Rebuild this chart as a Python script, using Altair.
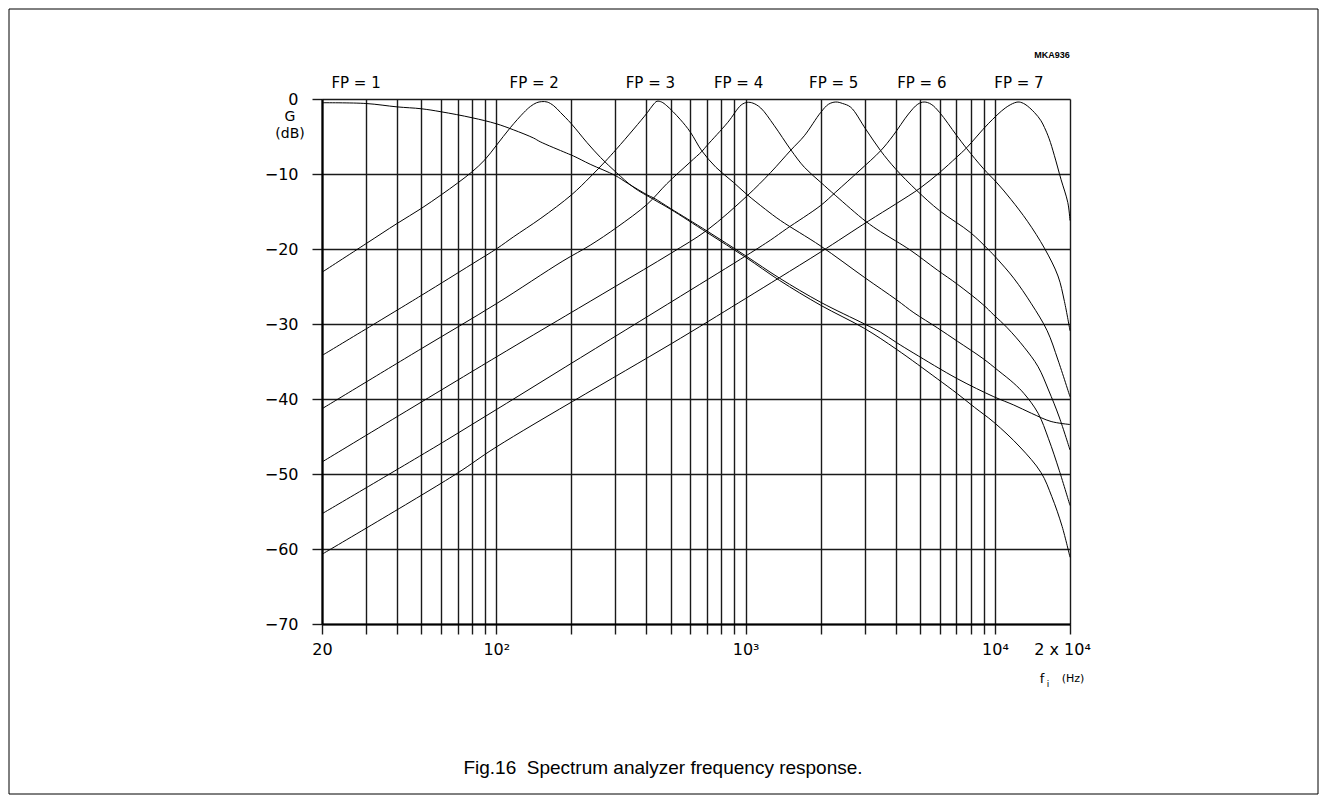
import altair as alt
import pandas as pd

# ---- data ----
curve_names = ["FP = 1", "FP = 2", "FP = 3", "FP = 4", "FP = 5", "FP = 6", "FP = 7"]

f1 = [20, 30, 40, 50, 60, 80, 100, 117, 141, 150, 191, 204, 238, 300, 335, 404, 428, 500, 700,
      1000, 1370, 2000, 3000, 3480, 4040, 4730, 7070, 9900, 11900, 14000, 16800, 20000]
g1 = [-0.5, -0.6, -1.05, -1.3, -1.7, -2.5, -3.3, -4.1, -5.2, -5.7, -7.2, -7.6, -8.7, -10.2, -11.2,
      -12.8, -13.2, -14.6, -17.6, -20.9, -23.9, -27.1, -30.0, -31.1, -32.5, -33.9, -37.3, -39.7,
      -40.8, -41.9, -43.0, -43.4]

f2 = [20, 30, 40, 50, 60, 70, 80, 90, 100, 114, 129, 137, 145, 152, 160, 170, 181, 200, 231, 262,
      303, 356, 428, 500, 700, 1000, 1370, 2000, 3000, 4040, 5870, 7070, 8270, 9900, 12600, 15300,
      16900, 18600, 20000]
g2 = [-23.1, -19.3, -16.6, -14.6, -12.8, -11.2, -9.7, -8.1, -6.2, -3.8, -1.8, -1.0, -0.5, -0.35,
      -0.4, -0.9, -1.8, -3.3, -5.8, -7.8, -9.8, -11.8, -13.4, -14.7, -17.8, -21.1, -24.2, -27.5,
      -30.6, -33.4, -37.3, -39.3, -41.1, -43.1, -46.4, -49.8, -53.0, -57.0, -61.1]

f3 = [20, 50, 80, 101, 117, 151, 200, 238, 274, 303, 356, 404, 425, 441, 460, 483, 546, 600, 667,
      760, 893, 1010, 1200, 1380, 2000, 3000, 4040, 4730, 5870, 7070, 8950, 10300, 11900, 13100,
      14900, 16400, 18100, 20000]
g3 = [-34.2, -26.2, -22.0, -19.9, -18.4, -15.9, -12.8, -10.4, -8.3, -6.7, -4.0, -1.8, -0.8, -0.3,
      -0.4, -0.9, -2.7, -4.4, -6.9, -9.1, -11.1, -12.7, -14.7, -16.2, -19.6, -23.8, -26.8, -28.5,
      -30.5, -32.3, -34.6, -36.2, -37.9, -39.3, -41.9, -45.3, -49.5, -54.2]

f4 = [20, 50, 100, 185, 238, 305, 404, 483, 600, 667, 700, 849, 960, 1015, 1070, 1150, 1300, 1520,
      1720, 2000, 2300, 3030, 3480, 3990, 4600, 5870, 7070, 8950, 9900, 11200, 13100, 14900, 16400,
      18100, 20000]
g4 = [-41.3, -33.3, -27.3, -21.6, -19.5, -17.1, -14.0, -11.3, -8.4, -7.0, -6.2, -3.1, -0.8, -0.45,
      -0.55, -1.2, -3.5, -6.8, -9.1, -11.1, -12.9, -16.3, -17.7, -18.9, -20.2, -22.8, -24.7, -27.4,
      -28.8, -30.5, -33.1, -35.7, -38.8, -42.4, -46.8]

f5 = [20, 100, 190, 300, 500, 700, 1015, 1260, 1520, 1720, 2000, 2150, 2300, 2450, 2640, 3030, 3480,
      3990, 4860, 6000, 7970, 9360, 10200, 11900, 14000, 16200, 17900, 20000]
g5 = [-48.4, -34.4, -28.9, -25.0, -20.6, -17.5, -12.9, -9.8, -6.8, -4.9, -1.8, -0.7, -0.4, -0.6,
      -1.1, -4.0, -6.9, -9.3, -12.2, -14.9, -17.8, -20.0, -21.3, -23.9, -27.3, -30.9, -34.8, -39.7]

f6 = [20, 63, 190, 548, 1015, 1260, 1460, 2000, 2300, 2850, 3480, 3900, 4500, 4900, 5200, 5550, 6000,
      7000, 7700, 9000, 10200, 11600, 13500, 15800, 17900, 19000, 20000]
g6 = [-55.3, -45.5, -35.7, -26.3, -20.8, -18.8, -17.3, -14.2, -12.4, -9.6, -6.9, -4.9, -2.0, -0.7,
      -0.4, -0.7, -1.8, -4.8, -6.6, -9.3, -11.2, -13.4, -16.3, -19.9, -23.6, -27.0, -30.9]

f7 = [20, 69, 100, 548, 1000, 1370, 2000, 3100, 4000, 5000, 6000, 7000, 7700, 9400, 11000, 12000,
      12500, 13200, 14400, 15300, 15800, 16500, 17300, 18400, 19600, 20000]
g7 = [-60.7, -50.0, -46.4, -31.9, -26.6, -23.8, -20.4, -16.3, -14.0, -11.9, -9.8, -7.8, -6.5, -3.3,
      -1.2, -0.5, -0.4, -0.7, -1.8, -2.9, -3.8, -5.3, -7.5, -10.7, -13.8, -16.2]

# frequency above which each FP label is centred
fp_label_freq = [27.4, 142, 415, 937, 2255, 5090, 12480]

grid_freqs = [20, 30, 40, 50, 60, 70, 80, 90, 100, 200, 300, 400, 500, 600, 700, 800, 900,
              1000, 2000, 3000, 4000, 5000, 6000, 7000, 8000, 9000, 10000, 20000]
y_ticks = [-70, -60, -50, -40, -30, -20, -10, 0]

# ---- build tables ----
rows = []
for name, fs, gs in zip(curve_names, [f1, f2, f3, f4, f5, f6, f7], [g1, g2, g3, g4, g5, g6, g7]):
    for i, (f, g) in enumerate(zip(fs, gs)):
        rows.append({"curve": name, "f": f, "g": g, "i": i})
df = pd.DataFrame(rows)
labels_df = pd.DataFrame({"f": fp_label_freq, "label": curve_names})

FONT = "DejaVu Sans"
x_scale = alt.Scale(type="log", domain=[20, 20000], nice=False)
y_scale = alt.Scale(domain=[-70, 0], nice=False)

label_expr = ("datum.value == 20 ? '20' : datum.value == 100 ? '10\u00b2' : "
              "datum.value == 1000 ? '10\u00b3' : datum.value == 10000 ? '10\u2074' : "
              "datum.value == 20000 ? '2 x 10\u2074' : ''")

lines = alt.Chart(df).mark_line(color="black", strokeWidth=1.0, interpolate="catmull-rom").encode(
    x=alt.X("f:Q", scale=x_scale, title=None,
            axis=alt.Axis(values=grid_freqs, grid=True, gridColor="#1a1a1a", gridWidth=1.4,
                          tickSize=10, tickColor="#1a1a1a", tickWidth=1.4,
                          domainColor="black", domainWidth=2.2,
                          labelExpr=label_expr, labelOverlap=False, labelFont=FONT,
                          labelFontSize=16, labelColor="black", labelPadding=7,
                          labelFlush=False,
                          labelOffset={"condition": {"test": "datum.value == 20000", "value": -8},
                                       "value": 0})),
    y=alt.Y("g:Q", scale=y_scale, title=None,
            axis=alt.Axis(values=y_ticks, grid=True, gridColor="#1a1a1a", gridWidth=1.4,
                          tickSize=10, tickColor="#1a1a1a", tickWidth=1.4,
                          domainColor="black", domainWidth=2.2,
                          labelFont=FONT, labelFontSize=16, labelColor="black",
                          labelPadding=14)),
    detail="curve:N",
    order="i:Q",
)

fp_text = alt.Chart(labels_df).mark_text(font=FONT, fontSize=15, color="black",
                                          baseline="middle", align="center").encode(
    x=alt.X("f:Q", scale=x_scale),
    y=alt.value(-16),
    text="label:N",
)

one = pd.DataFrame({"k": [0]})


def txt(s, x, y, size, **kw):
    return alt.Chart(one).mark_text(fontSize=size, color="black", baseline="middle", **kw).encode(
        x=alt.value(x), y=alt.value(y), text=alt.value(s))


g_lab = txt("G", -32, 18, 14, font=FONT, align="center")
db_lab = txt("(dB)", -32, 35, 14, font=FONT, align="center")
f_lab = txt("f", 720, 580, 13, font=FONT, align="center")
i_lab = txt("i", 726, 585, 9, font=FONT, align="center")
hz_lab = txt("(Hz)", 751, 580, 11, font=FONT, align="center")
mka = txt("MKA936", 730, -44, 9, font="Liberation Sans", fontWeight="bold", align="center")
caption = txt("Fig.16\u00a0 Spectrum analyzer frequency response.", 341, 669, 19,
              font="Liberation Sans", align="center")

frame = alt.Chart(one).mark_rect(fillOpacity=0, stroke="black", strokeWidth=1).encode(
    x=alt.value(-313), x2=alt.value(996), y=alt.value(-90), y2=alt.value(695))

chart = alt.layer(lines, fp_text, g_lab, db_lab, f_lab, i_lab, hz_lab, mka, caption, frame).properties(
    width=748, height=525,
    padding={"left": 314, "top": 91, "right": 249, "bottom": 172},
    autosize=alt.AutoSizeParams(type="none"),
).configure_view(stroke="black", strokeWidth=2.2).configure(background="white")

chart.save("out.html", embed_options={"renderer": "svg", "actions": False})
